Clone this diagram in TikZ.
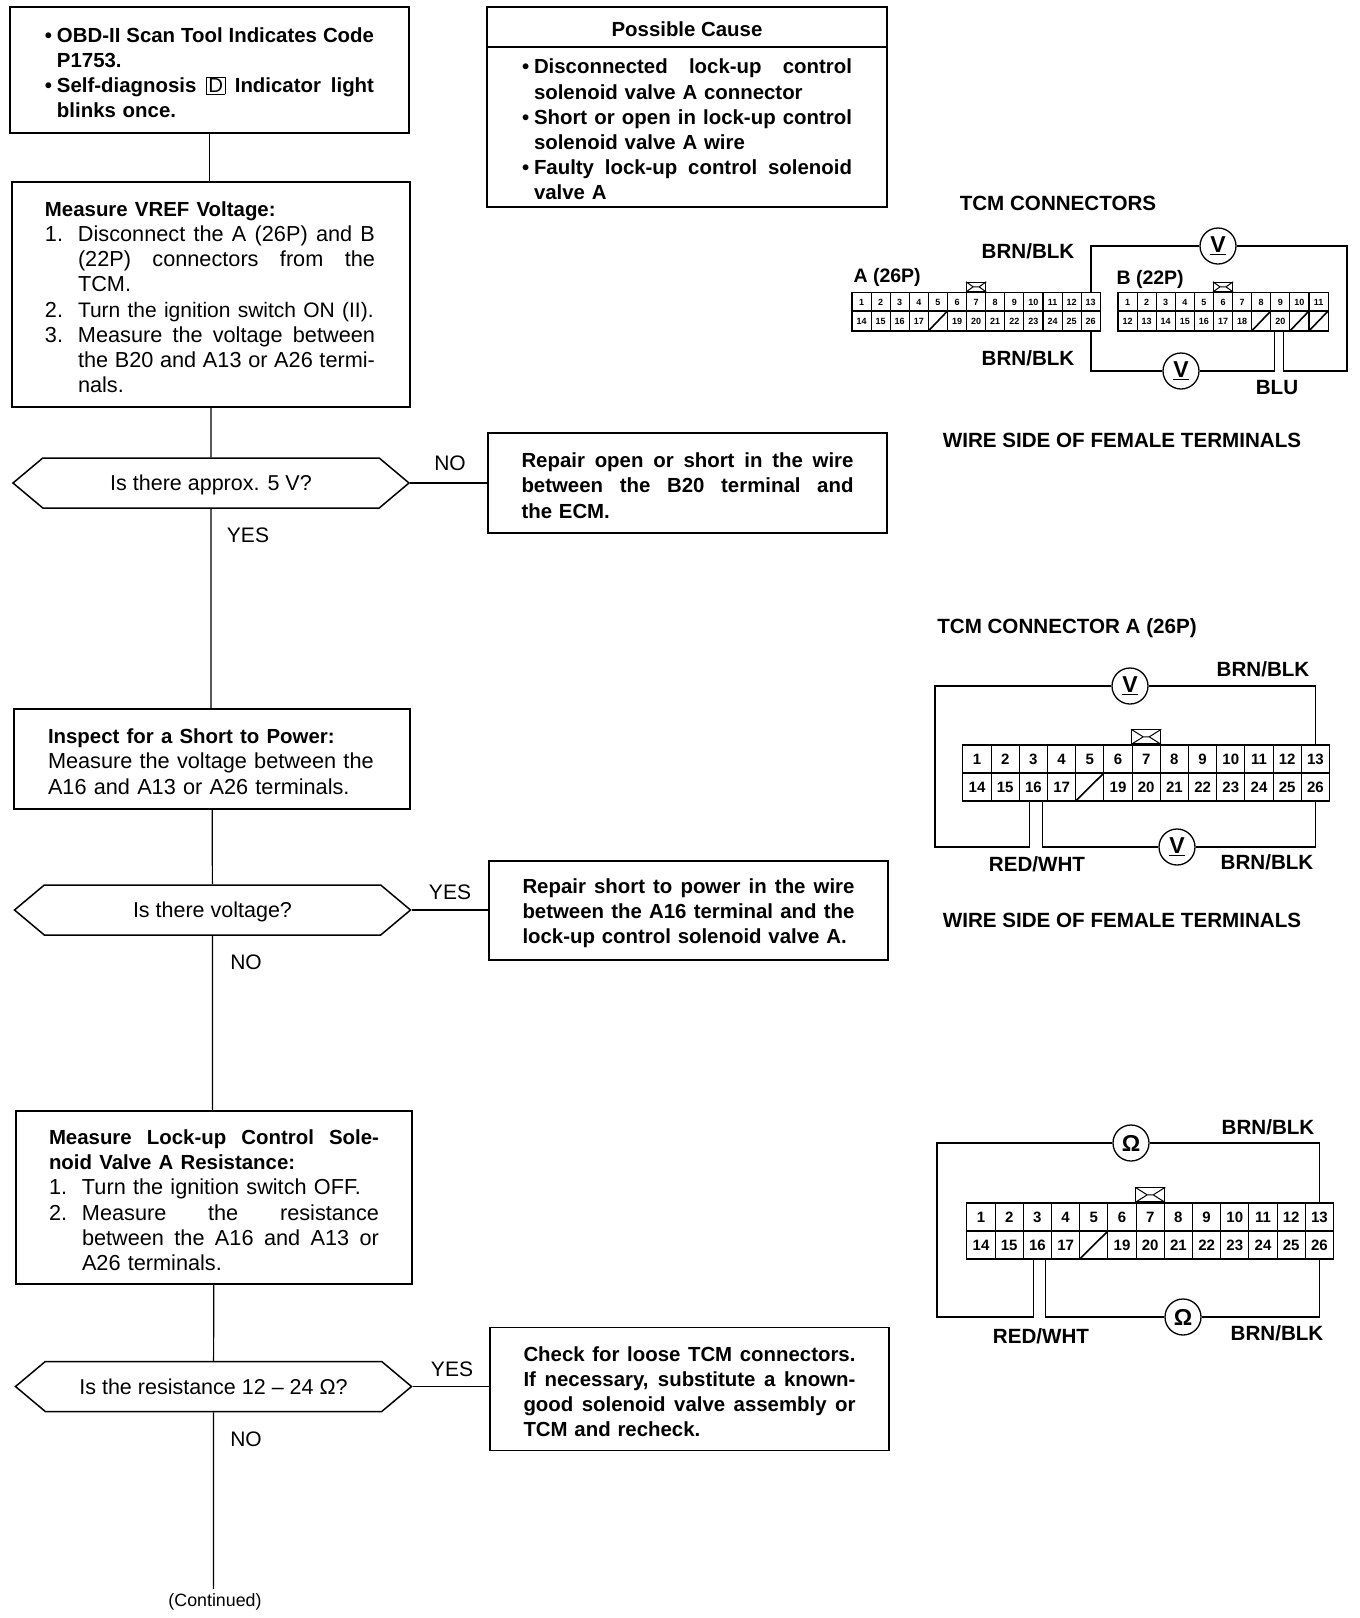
\documentclass[tikz,border=0pt]{standalone}
\usepackage{fontspec}
\setmainfont{Liberation Sans}
\usetikzlibrary{shapes.symbols}

\newcommand{\fillline}[2]{\makebox[#1][s]{\spaceskip=.28em plus 1em\relax #2}}
\newcommand{\itemnum}[1]{\makebox[33pt][l]{#1}}
\newcommand{\itemdot}{\makebox[12pt][l]{•}}
\newcommand{\boldtext}{\fontsize{20.4}{25.2}\selectfont\bfseries}

% one row of terminals, named by prefix and position
\newcommand{\pinrow}[6]{%
  \foreach \n [count=\i] in {#6} {
    \node[pincell, minimum width=#4, minimum height=#5] (#1\i) at ({#2+(\i-1)*#4},#3) {\n};
  }}

\tikzset{
  x=1pt, y=-1pt,
  wire/.style={line width=1.6pt},
  flowline/.style={line width=1.2pt},
  flowbox/.style={draw, line width=1.5pt, align=left, inner ysep=0pt,
    font=\fontsize{21.7}{25.2}\selectfont,
    execute at begin node={\rule{0pt}{20pt}}},
  boldbox/.style={flowbox, font=\boldtext},
  hexbox/.style={draw, line width=1.5pt, shape=signal, signal to=east and west,
    signal pointer angle=80, minimum width=396pt, minimum height=50pt, inner sep=0pt,
    text height=19pt, text depth=4pt, font=\fontsize{21.5}{25}\selectfont},
  answer/.style={font=\fontsize{21}{25}\selectfont},
  title/.style={font=\fontsize{20.6}{24}\selectfont\bfseries},
  portlabel/.style={font=\fontsize{19.5}{22}\selectfont\bfseries, anchor=west},
  pincell/.style={draw, line width=1.1pt, inner sep=0pt, anchor=center},
  tabbox/.style={draw, line width=1.2pt, inner sep=0pt, anchor=south},
  meter/.style={draw, circle, line width=1.3pt, fill=white, minimum size=36pt, inner sep=0pt,
    font=\fontsize{23}{23}\selectfont\bfseries},
}

\begin{document}
\begin{tikzpicture}
    \useasboundingbox (0,0) rectangle (1360,1618);

    % flow column
    \node[boldbox, text width=329pt, inner xsep=35pt, minimum height=126pt] (codebox) at (209.5,70) {%
        \itemdot\fillline{317pt}{OBD-II Scan Tool Indicates Code}\\
        \hspace*{12pt}P1753.\\
        \itemdot\fillline{317pt}{Self-diagnosis {\setlength{\fboxsep}{1.5pt}\fbox{\normalfont D}} Indicator light}\\
        \hspace*{12pt}blinks once.};
    \node[flowbox, text width=332pt, inner xsep=33pt, minimum height=225pt] (vrefbox) at (211,294.5) {%
        {\boldtext Measure VREF Voltage:}\\
        \itemnum{1.}\fillline{297pt}{Disconnect the A (26P) and B}\\
        \hspace*{33pt}\fillline{297pt}{(22P) connectors from the}\\
        \hspace*{33pt}TCM.\\
        \itemnum{2.}\mbox{\fontsize{21}{25.2}\selectfont Turn the ignition switch ON (II).}\\
        \itemnum{3.}\fillline{297pt}{Measure the voltage between}\\
        \hspace*{33pt}\fillline{297pt}{the B20 and A13 or A26 termi-}\\
        \hspace*{33pt}nals.};
    \node[hexbox] (approxq) at (211,483) {Is there approx. 5 V?};
    \node[flowbox, text width=328pt, inner xsep=34pt, minimum height=100pt] (powerbox) at (212,759) {%
        {\boldtext Inspect for a Short to Power:}\\
        Measure the voltage between the\\
        A16 and A13 or A26 terminals.};
    \node[hexbox] (voltq) at (212.5,910) {Is there voltage?};
    \node[flowbox, text width=330pt, inner xsep=33pt, minimum height=173pt] (ohmbox) at (214,1197.5) {%
        {\boldtext \fillline{330pt}{Measure Lock-up Control Sole-}\\
        noid Valve A Resistance:}\\
        \itemnum{1.}Turn the ignition switch OFF.\\
        \itemnum{2.}\fillline{297pt}{Measure the resistance}\\
        \hspace*{33pt}\fillline{297pt}{between the A16 and A13 or}\\
        \hspace*{33pt}A26 terminals.};
    \node[hexbox] (ohmq) at (213.5,1386.5) {Is the resistance 12 -- 24 Ω?};
    \coordinate (contend) at (213.5,1589);
    \node[font=\fontsize{17.8}{20}\selectfont] (contlabel) at (215,1602) {(Continued)};

    \draw[flowline] (codebox) -- (codebox |- vrefbox.north);
    \draw[flowline] (vrefbox) -- (approxq);
    \draw[flowline] (approxq) -- (powerbox.north -| approxq);
    \draw[flowline] (powerbox) -- (voltq);
    \draw[flowline] (voltq) -- (ohmbox.north -| voltq);
    \draw[flowline] (ohmbox) -- (ohmq);
    \draw[flowline] (ohmq) -- (contend);

    % repair boxes
    \node[boldbox, minimum width=400pt, minimum height=40pt] (causehead) at (687,27) {Possible Cause};
    \node[boldbox, text width=330pt, inner xsep=35pt, minimum height=160pt] (causebox) at (687,127) {%
        \itemdot\fillline{318pt}{Disconnected lock-up control}\\
        \hspace*{12pt}solenoid valve A connector\\
        \itemdot\fillline{318pt}{Short or open in lock-up control}\\
        \hspace*{12pt}solenoid valve A wire\\
        \itemdot\fillline{318pt}{Faulty lock-up control solenoid}\\
        \hspace*{12pt}valve A};
    \node[boldbox, text width=332pt, inner xsep=33.5pt, minimum height=100pt] (repairone) at (687.5,483) {%
        \fillline{332pt}{Repair open or short in the wire}\\
        \fillline{332pt}{between the B20 terminal and}\\
        the ECM.};
    \node[boldbox, text width=332pt, inner xsep=33.5pt, minimum height=99pt] (repairtwo) at (688.5,910.5) {%
        \fillline{332pt}{Repair short to power in the wire}\\
        \fillline{332pt}{between the A16 terminal and the}\\
        lock-up control solenoid valve A.};
    \node[boldbox, text width=332pt, inner xsep=33.5pt, minimum height=123pt] (checkbox) at (689.5,1389) {%
        \fillline{332pt}{Check for loose TCM connectors.}\\
        \fillline{332pt}{If necessary, substitute a known-}\\
        \fillline{332pt}{good solenoid valve assembly or}\\
        TCM and recheck.};

    \draw[flowline] (approxq.east) -- (approxq.east -| repairone.west);
    \draw[flowline] (voltq.east) -- (voltq.east -| repairtwo.west);
    \draw[flowline] (ohmq.east) -- (ohmq.east -| checkbox.west);

    \node[answer] (noone) at (450,463) {NO};
    \node[answer] (yesone) at (248,535) {YES};
    \node[answer] (yestwo) at (450,892) {YES};
    \node[answer] (notwo) at (246,962) {NO};
    \node[answer] (yesthree) at (452,1369) {YES};
    \node[answer] (nothree) at (246,1439) {NO};

    % TCM connectors A and B
    \node[title] (conntitle) at (1058,203) {TCM CONNECTORS};
    \node[portlabel] (alabel) at (850,277) {A (26P)};
    \node[portlabel] (blabel) at (1113,279) {B (22P)};
    \begin{scope}[font=\fontsize{9}{10}\selectfont\bfseries]
        \pinrow{at}{861.5}{302}{19.1pt}{19pt}{1,2,3,4,5,6,7,8,9,10,11,12,13}
        \pinrow{ab}{861.5}{321}{19.1pt}{20pt}{14,15,16,17,{},19,20,21,22,23,24,25,26}
        \pinrow{bt}{1127.5}{302}{19.1pt}{19pt}{1,2,3,4,5,6,7,8,9,10,11}
        \pinrow{bb}{1127.5}{321}{19.1pt}{20pt}{12,13,14,15,16,17,18,{},20,{},{}}
    \end{scope}
    \draw[wire] (ab5.south west) -- (ab5.north east);
    \draw[wire] (bb8.south west) -- (bb8.north east);
    \draw[wire] (bb10.south west) -- (bb10.north east);
    \draw[wire] (bb11.south west) -- (bb11.north east);
    \node[tabbox, minimum width=19pt, minimum height=9pt] (atab) at (at7.north) {};
    \node[tabbox, minimum width=19pt, minimum height=9pt] (btab) at (bt6.north) {};

    \node[meter] (vab) at (1218,246) {\underline{V}};
    \node[meter] (vaa) at (1181,371) {\underline{V}};
    \coordinate (wrapab) at (1347,371);
    \draw[wire] (at13.north) |- (vab.west);
    \draw[wire] (vab.east) -| (wrapab) -| ([xshift=3pt]bb9.south);
    \draw[wire] (ab13.south) |- (vaa.west);
    \draw[wire] (vaa.east) -| ([xshift=-6pt]bb9.south);

    \node[title] (brnone) at (1028,251) {BRN/BLK};
    \node[title] (brntwo) at (1028,358) {BRN/BLK};
    \node[title] (blulabel) at (1277,388) {BLU};
    \node[title] (sideone) at (1122,440) {WIRE SIDE OF FEMALE TERMINALS};

    % TCM connector A, voltage
    \node[title] (volttitle) at (1067,628) {TCM CONNECTOR A (26P)};
    \begin{scope}[font=\fontsize{15}{16}\selectfont\bfseries]
        \pinrow{vt}{977}{759}{28.2pt}{28pt}{1,2,3,4,5,6,7,8,9,10,11,12,13}
        \pinrow{vb}{977}{787}{28.2pt}{28pt}{14,15,16,17,{},19,20,21,22,23,24,25,26}
    \end{scope}
    \draw[wire] (vb5.south west) -- (vb5.north east);
    \node[tabbox, minimum width=29pt, minimum height=14pt] (vtab) at (vt7.north) {};

    \node[meter] (vtop) at (1130,686) {\underline{V}};
    \node[meter] (vbot) at (1177,847) {\underline{V}};
    \coordinate (vleft) at (935,847);
    \draw[wire] (vtop.west) -| (vleft) -| ([xshift=-4pt]vb3.south);
    \draw[wire] (vtop.east) -| (vt13.north);
    \draw[wire] ([xshift=9pt]vb3.south) |- (vbot.west);
    \draw[wire] (vbot.east) -| (vb13.south);

    \node[title] (brnthree) at (1263,669) {BRN/BLK};
    \node[title] (redone) at (1037,864) {RED/WHT};
    \node[title] (brnfour) at (1267,862) {BRN/BLK};
    \node[title] (sidetwo) at (1122,920) {WIRE SIDE OF FEMALE TERMINALS};

    % TCM connector A, resistance
    \begin{scope}[font=\fontsize{15}{16}\selectfont\bfseries]
        \pinrow{rt}{981}{1217}{28.2pt}{28pt}{1,2,3,4,5,6,7,8,9,10,11,12,13}
        \pinrow{rb}{981}{1245}{28.2pt}{28pt}{14,15,16,17,{},19,20,21,22,23,24,25,26}
    \end{scope}
    \draw[wire] (rb5.south west) -- (rb5.north east);
    \node[tabbox, minimum width=29pt, minimum height=14pt] (rtab) at (rt7.north) {};

    \node[meter] (rtop) at (1131,1143) {Ω};
    \node[meter] (rbot) at (1183,1317) {Ω};
    \coordinate (rleft) at (937,1317);
    \draw[wire] (rtop.west) -| (rleft) -| ([xshift=-4pt]rb3.south);
    \draw[wire] (rtop.east) -| (rt13.north);
    \draw[wire] ([xshift=8pt]rb3.south) |- (rbot.west);
    \draw[wire] (rbot.east) -| (rb13.south);

    \node[title] (brnfive) at (1268,1127) {BRN/BLK};
    \node[title] (redtwo) at (1041,1336) {RED/WHT};
    \node[title] (brnsix) at (1277,1333) {BRN/BLK};

    % tab marks
    \foreach \t in {atab,btab,vtab,rtab} {
        \draw[line width=1pt] (\t.north west) -- ([xshift=-3pt]\t.center) -- (\t.south west)
            ([xshift=-3pt]\t.center) -- ([xshift=3pt]\t.center)
            (\t.north east) -- ([xshift=3pt]\t.center) -- (\t.south east);
    }

\end{tikzpicture}
\end{document}
